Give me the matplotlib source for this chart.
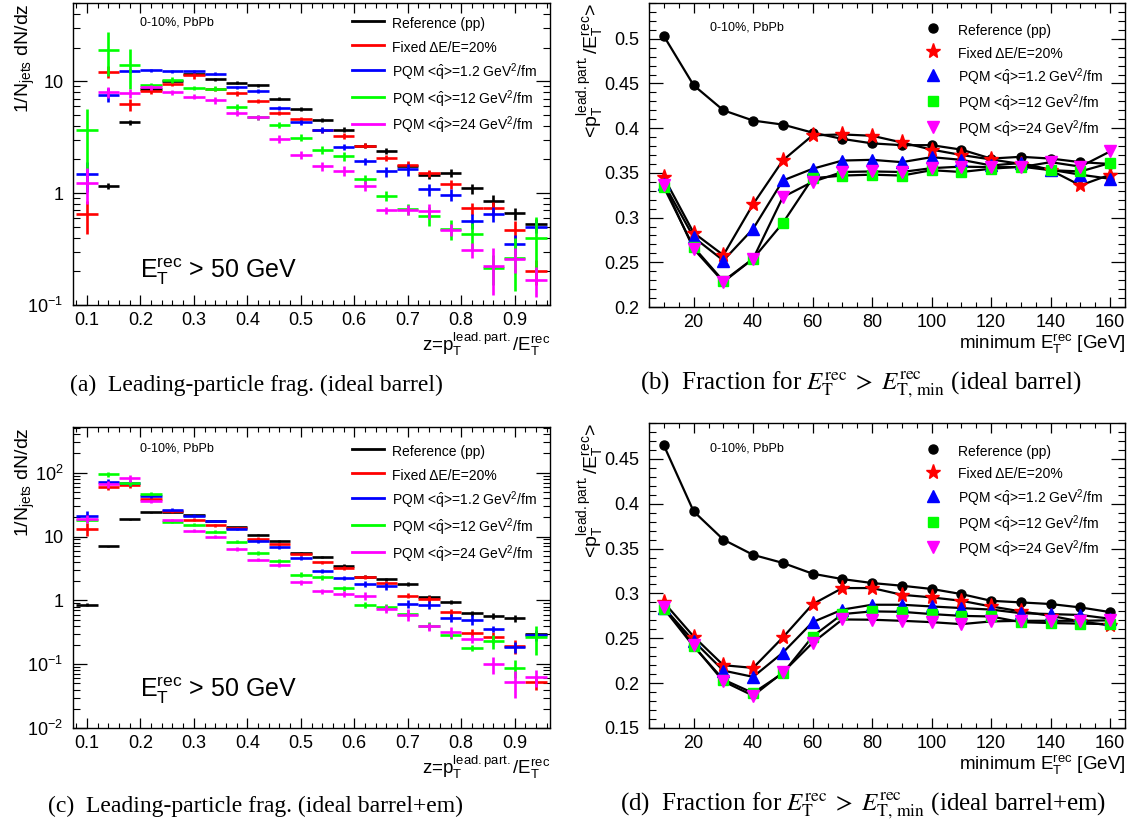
import numpy as np
import matplotlib
matplotlib.use('Agg')
import matplotlib.pyplot as plt
from matplotlib.lines import Line2D
from matplotlib.ticker import MultipleLocator, LogLocator, NullFormatter, FixedLocator, FixedFormatter

plt.rcParams['font.family'] = ['Liberation Sans', 'DejaVu Sans']
plt.rcParams['mathtext.fontset'] = 'custom'
plt.rcParams['mathtext.rm'] = 'Liberation Sans'
plt.rcParams['mathtext.it'] = 'Liberation Sans:italic'
plt.rcParams['mathtext.bf'] = 'Liberation Sans:bold'

# ---------------- data ----------------
series_labels = ['Reference (pp)', 'Fixed \u0394E/E=20%',
                 r'PQM <$\hat{\mathrm{q}}$>=1.2 GeV$^{2}$/fm',
                 r'PQM <$\hat{\mathrm{q}}$>=12 GeV$^{2}$/fm',
                 r'PQM <$\hat{\mathrm{q}}$>=24 GeV$^{2}$/fm']
series_colors = ['#000000', '#ff0000', '#0000ff', '#00ff00', '#ff00ff']
series_markers = ['o', '*', '^', 's', 'v']

z_centers = [0.10, 0.14, 0.18, 0.22, 0.26, 0.30, 0.34, 0.38, 0.42, 0.46, 0.50,
             0.54, 0.58, 0.62, 0.66, 0.70, 0.74, 0.78, 0.82, 0.86, 0.90, 0.94]
z_halfwidth = 0.02

# (a) ideal barrel
a_ref = [np.nan, 1.15, 4.3, 8.5, 10.0, 11.5, 10.4, 9.7, 9.2, 6.95, 5.6, 4.5, 3.7, 2.65, 2.37, 1.75, 1.45, 1.51, 1.10, 0.855, 0.66, 0.53]
a_fix = [0.645, 12.1, 6.2, 8.2, 9.5, 11.3, 8.6, 7.8, 6.6, 5.2, 4.57, 3.65, 3.23, 2.65, 2.08, 1.80, 1.50, 1.20, 0.73, 0.73, 0.47, 0.20]
a_q1 = [1.47, 7.6, 12.3, 12.5, 12.3, 12.3, 11.7, 8.8, 8.2, 5.8, 4.3, 3.67, 2.58, 1.92, 1.56, 1.63, 1.08, 0.97, 0.56, 0.65, 0.35, 0.50]
a_q12 = [3.65, 19.2, 14.1, 9.2, 10.2, 8.7, 8.6, 5.9, 4.74, 4.1, 3.14, 2.42, 2.14, 1.33, 0.95, 0.72, 0.63, 0.48, 0.43, 0.215, 0.265, 0.40]
a_q24 = [1.24, 8.0, 7.8, 8.8, 8.0, 7.25, 6.76, 5.25, 4.74, 3.03, 2.18, 1.74, 1.58, 1.16, 0.70, 0.71, 0.69, 0.47, 0.31, 0.224, 0.26, 0.167]
# relative errors
a_ref_err = [0, 0.06, 0.05, 0.03, 0.03, 0.03, 0.03, 0.03, 0.03, 0.03, 0.04, 0.04, 0.05, 0.05, 0.06, 0.06, 0.08, 0.08, 0.10, 0.12, 0.12, 0.10]
a_fix_err = [0.33, 0.12, 0.12, 0.06, 0.05, 0.08, 0.04, 0.05, 0.04, 0.04, 0.05, 0.05, 0.06, 0.05, 0.06, 0.07, 0.08, 0.09, 0.12, 0.14, 0.20, 0.25]
a_q1_err = [0.30, 0.15, 0.04, 0.03, 0.03, 0.03, 0.03, 0.04, 0.04, 0.04, 0.05, 0.06, 0.06, 0.07, 0.10, 0.12, 0.12, 0.12, 0.15, 0.15, 0.20, 0.12]
a_q12_err = [0.55, 0.42, 0.39, 0.05, 0.06, 0.05, 0.05, 0.06, 0.06, 0.06, 0.07, 0.08, 0.10, 0.10, 0.10, 0.12, 0.20, 0.20, 0.27, 0.30, 0.50, 0.52]
a_q24_err = [0.35, 0.12, 0.10, 0.05, 0.05, 0.05, 0.07, 0.06, 0.06, 0.08, 0.08, 0.10, 0.10, 0.10, 0.07, 0.10, 0.15, 0.12, 0.15, 0.45, 0.25, 0.30]

# (c) ideal barrel+em
c_ref = [0.86, 7.0, 18.5, 23.8, 24.0, 21.6, 17.6, 13.9, 10.7, 8.5, 5.6, 4.84, 3.5, 2.36, 2.14, 1.81, 1.12, 0.94, 0.63, 0.57, 0.52, 0.30]
c_fix = [13.1, 60.5, 64, 38.5, 24.7, 18.3, 15.1, 13.6, 9.25, 7.5, 5.3, 3.95, 3.18, 2.3, 1.88, 1.19, 1.06, 0.655, 0.31, 0.27, 0.19, 0.052]
c_q1 = [21.1, 72, 70, 43, 26.5, 21.1, 17.6, 13.1, 8.4, 6.77, 4.6, 2.92, 2.24, 1.81, 1.67, 0.885, 0.86, 0.535, 0.50, 0.36, 0.186, 0.29]
c_q12 = [18.1, 94, 68, 47, 17.0, 15.3, 11.9, 8.3, 5.53, 4.1, 2.53, 2.3, 1.55, 0.85, 0.78, 0.62, 0.40, 0.29, 0.18, 0.23, 0.088, 0.27]
c_q24 = [19.1, 66, 82, 35.8, 18.1, 12.3, 10.0, 6.4, 4.35, 3.59, 1.92, 1.39, 1.27, 1.19, 0.74, 0.60, 0.39, 0.32, 0.25, 0.10, 0.053, 0.063]
c_ref_err = [0.05, 0.02, 0.02, 0.02, 0.02, 0.02, 0.02, 0.03, 0.03, 0.03, 0.03, 0.04, 0.05, 0.05, 0.06, 0.06, 0.07, 0.08, 0.10, 0.10, 0.12, 0.10]
c_fix_err = [0.23, 0.13, 0.10, 0.06, 0.05, 0.05, 0.05, 0.05, 0.06, 0.06, 0.06, 0.06, 0.07, 0.07, 0.08, 0.10, 0.10, 0.12, 0.15, 0.20, 0.25, 0.25]
c_q1_err = [0.17, 0.10, 0.10, 0.06, 0.05, 0.05, 0.05, 0.05, 0.06, 0.06, 0.06, 0.08, 0.08, 0.10, 0.12, 0.15, 0.15, 0.15, 0.18, 0.12, 0.20, 0.20]
c_q12_err = [0.10, 0.10, 0.10, 0.05, 0.05, 0.05, 0.06, 0.06, 0.06, 0.07, 0.08, 0.10, 0.10, 0.10, 0.12, 0.12, 0.15, 0.15, 0.12, 0.25, 0.30, 0.48]
c_q24_err = [0.15, 0.12, 0.12, 0.05, 0.05, 0.05, 0.05, 0.06, 0.06, 0.07, 0.08, 0.08, 0.12, 0.15, 0.15, 0.20, 0.15, 0.18, 0.15, 0.30, 0.45, 0.30]

# (b), (d) mean fraction vs minimum E_T
et_min = [10, 20, 30, 40, 50, 60, 70, 80, 90, 100, 110, 120, 130, 140, 150, 160]
b_ref = [0.503, 0.448, 0.420, 0.4085, 0.404, 0.395, 0.388, 0.383, 0.381, 0.381, 0.376, 0.366, 0.368, 0.366, 0.362, 0.360]
b_fix = [0.345, 0.283, 0.258, 0.315, 0.364, 0.392, 0.393, 0.3915, 0.384, 0.376, 0.370, 0.365, 0.360, 0.353, 0.336, 0.348]
b_q1 = [0.338, 0.278, 0.252, 0.2875, 0.3415, 0.3546, 0.3638, 0.3646, 0.362, 0.3676, 0.3646, 0.3583, 0.361, 0.3535, 0.348, 0.3434]
b_q12 = [0.334, 0.267, 0.229, 0.254, 0.294, 0.344, 0.347, 0.348, 0.347, 0.353, 0.351, 0.3546, 0.357, 0.353, 0.3516, 0.361]
b_q24 = [0.337, 0.265, 0.228, 0.254, 0.323, 0.340, 0.351, 0.3516, 0.351, 0.3553, 0.357, 0.3564, 0.3564, 0.362, 0.357, 0.374]

d_ref = [0.465, 0.3915, 0.360, 0.343, 0.334, 0.322, 0.316, 0.3116, 0.3086, 0.305, 0.2993, 0.2918, 0.290, 0.2882, 0.2844, 0.2792]
d_fix = [0.290, 0.252, 0.220, 0.217, 0.251, 0.288, 0.306, 0.306, 0.2985, 0.2956, 0.2918, 0.2855, 0.280, 0.275, 0.2688, 0.2643]
d_q1 = [0.284, 0.247, 0.214, 0.207, 0.234, 0.268, 0.282, 0.2874, 0.2874, 0.2855, 0.2837, 0.282, 0.278, 0.277, 0.276, 0.2718]
d_q12 = [0.283, 0.241, 0.204, 0.189, 0.211, 0.252, 0.277, 0.280, 0.2795, 0.277, 0.275, 0.2743, 0.268, 0.267, 0.2664, 0.2658]
d_q24 = [0.285, 0.242, 0.202, 0.186, 0.212, 0.245, 0.271, 0.2707, 0.2695, 0.268, 0.2658, 0.2688, 0.2695, 0.2695, 0.2695, 0.270]

log_ticks_a = [0.1, 1, 10]
log_labels_a = [r'10$^{-1}$', '1', '10']
log_ticks_c = [0.01, 0.1, 1, 10, 100]
log_labels_c = [r'10$^{-2}$', r'10$^{-1}$', '1', '10', r'10$^{2}$']

captions = ['(a)  Leading-particle frag. (ideal barrel)',
            r'(b)  Fraction for $E_{\rm T}^{\rm rec}\; > \;E_{\rm T,\,min}^{\rm rec}$ (ideal barrel)',
            '(c)  Leading-particle frag. (ideal barrel+em)',
            r'(d)  Fraction for $E_{\rm T}^{\rm rec}\; > \;E_{\rm T,\,min}^{\rm rec}$ (ideal barrel+em)']

# ---------------- figure ----------------
W, H = 1132, 830
fig = plt.figure(figsize=(W / 100, H / 100), dpi=100)


def px_axes(l, t, r, b):
    return fig.add_axes([l / W, 1 - b / H, (r - l) / W, (b - t) / H])


ax_a = px_axes(73, 3, 550, 305)
ax_b = px_axes(649, 3, 1125, 307)
ax_c = px_axes(73, 427, 550, 728)
ax_d = px_axes(649, 423, 1125, 728)

TICK_FS = 13
LEG_FS = 10


def style_common(ax):
    ax.tick_params(which='both', direction='in', top=True, right=True, labelsize=TICK_FS)
    ax.tick_params(axis='x', which='major', length=7, width=0.9, pad=5)
    ax.tick_params(axis='x', which='minor', length=3.5, width=0.8)
    ax.tick_params(axis='y', which='major', length=10, width=0.9, pad=7)
    ax.tick_params(axis='y', which='minor', length=5, width=0.8)
    for sp in ax.spines.values():
        sp.set_linewidth(1.0)


def frag_panel(ax, vals, errs, yticks, ylabels, ylim, txt_y, leg_y):
    zc = np.array(z_centers)
    for v, e, col in zip(vals, errs, series_colors):
        v = np.array(v, dtype=float)
        e = np.array(e, dtype=float) * v
        ax.errorbar(zc, v, xerr=z_halfwidth, yerr=e, fmt='none', ecolor=col,
                    elinewidth=1.9, capsize=0)
    ax.set_yscale('log')
    ax.set_xlim(0.074, 0.966)
    ax.set_ylim(*ylim)
    ax.xaxis.set_major_locator(MultipleLocator(0.1))
    ax.xaxis.set_minor_locator(MultipleLocator(0.02))
    ax.xaxis.set_major_formatter(plt.FuncFormatter(lambda x, p: f'{x:.1f}'))
    ax.yaxis.set_major_locator(FixedLocator(yticks))
    ax.yaxis.set_major_formatter(FixedFormatter(ylabels))
    ax.yaxis.set_minor_locator(LogLocator(base=10, subs=np.arange(2, 10)))
    ax.yaxis.set_minor_formatter(NullFormatter())
    style_common(ax)
    ax.set_ylabel(r'1/N$_{\rm jets}$ dN/dz', fontsize=14, loc='top')
    ax.yaxis.set_label_coords(-0.075, 1.0)
    ax.set_xlabel(r'z=p$_{\rm T}^{\rm lead.part.}$/E$_{\rm T}^{\rm rec}$', fontsize=13.5, loc='right')
    ax.xaxis.set_label_coords(1.0, -0.085)
    handles = [Line2D([], [], color=c, lw=2) for c in series_colors]
    ax.legend(handles, series_labels, loc='upper left', bbox_to_anchor=(0.585, leg_y),
              frameon=False, fontsize=LEG_FS, handlelength=2.3, handletextpad=0.6,
              handleheight=1.65, labelspacing=0.37, borderpad=0, borderaxespad=0)
    ax.text(0.14, txt_y[0], '0-10%, PbPb', transform=ax.transAxes, fontsize=9, va='center')
    ax.text(0.14, txt_y[1], r'E$_{\rm T}^{\rm rec}$ > 50 GeV', transform=ax.transAxes,
            fontsize=18, va='center')


def frac_panel(ax, vals, ylim, txt_y, leg_y):
    ms = [6.5, 11, 8.5, 6.5, 8.5]
    for v, col, mk, m in zip(vals, series_colors, series_markers, ms):
        ax.plot(et_min, v, '-', color='black', lw=1.6, zorder=2)
        ax.plot(et_min, v, ls='none', marker=mk, ms=m, mfc=col, mec=col, zorder=3)
    ax.set_xlim(5, 165)
    ax.set_ylim(*ylim)
    ax.xaxis.set_major_locator(MultipleLocator(20))
    ax.xaxis.set_minor_locator(MultipleLocator(5))
    ax.yaxis.set_major_locator(MultipleLocator(0.05))
    ax.yaxis.set_minor_locator(MultipleLocator(0.01))
    ax.yaxis.set_major_formatter(plt.FuncFormatter(lambda y, p: f'{y:.2f}'.rstrip('0').rstrip('.')))
    style_common(ax)
    ax.set_ylabel(r'<p$_{\rm T}^{\rm lead.part.}$/E$_{\rm T}^{\rm rec}$>', fontsize=14, loc='top')
    ax.yaxis.set_label_coords(-0.089, 1.0)
    ax.set_xlabel(r'minimum E$_{\rm T}^{\rm rec}$ [GeV]', fontsize=13.5, loc='right')
    ax.xaxis.set_label_coords(1.0, -0.083)
    handles = [Line2D([], [], ls='none', marker=mk, ms=m, mfc=c, mec=c)
               for c, mk, m in zip(series_colors, series_markers, ms)]
    ax.legend(handles, series_labels, loc='upper left', bbox_to_anchor=(0.579, leg_y),
              frameon=False, fontsize=LEG_FS, handlelength=1.2, handletextpad=1.2,
              handleheight=1.65, labelspacing=0.3, borderpad=0, borderaxespad=0)
    ax.text(0.128, txt_y, '0-10%, PbPb', transform=ax.transAxes, fontsize=9, va='center')


frag_panel(ax_a, [a_ref, a_fix, a_q1, a_q12, a_q24],
           [a_ref_err, a_fix_err, a_q1_err, a_q12_err, a_q24_err],
           log_ticks_a, log_labels_a, (0.1, 50), (0.934, 0.11), 0.962)
frag_panel(ax_c, [c_ref, c_fix, c_q1, c_q12, c_q24],
           [c_ref_err, c_fix_err, c_q1_err, c_q12_err, c_q24_err],
           log_ticks_c, log_labels_c, (0.01, 520), (0.93, 0.125), 0.948)
frac_panel(ax_b, [b_ref, b_fix, b_q1, b_q12, b_q24], (0.2, 0.54), 0.918, 0.939)
frac_panel(ax_d, [d_ref, d_fix, d_q1, d_q12, d_q24], (0.15, 0.49), 0.918, 0.937)

cap_pos = [(256, 385), (861, 385), (256, 806), (863, 806)]
cap_fs = [17, 18, 17, 18]
for (cx, cy), txt, fs in zip(cap_pos, captions, cap_fs):
    fig.text(cx / W, 1 - cy / H, txt, family='Liberation Serif', math_fontfamily='stix',
             fontsize=fs, ha='center', va='center')

fig.savefig('out.png', dpi=100)
